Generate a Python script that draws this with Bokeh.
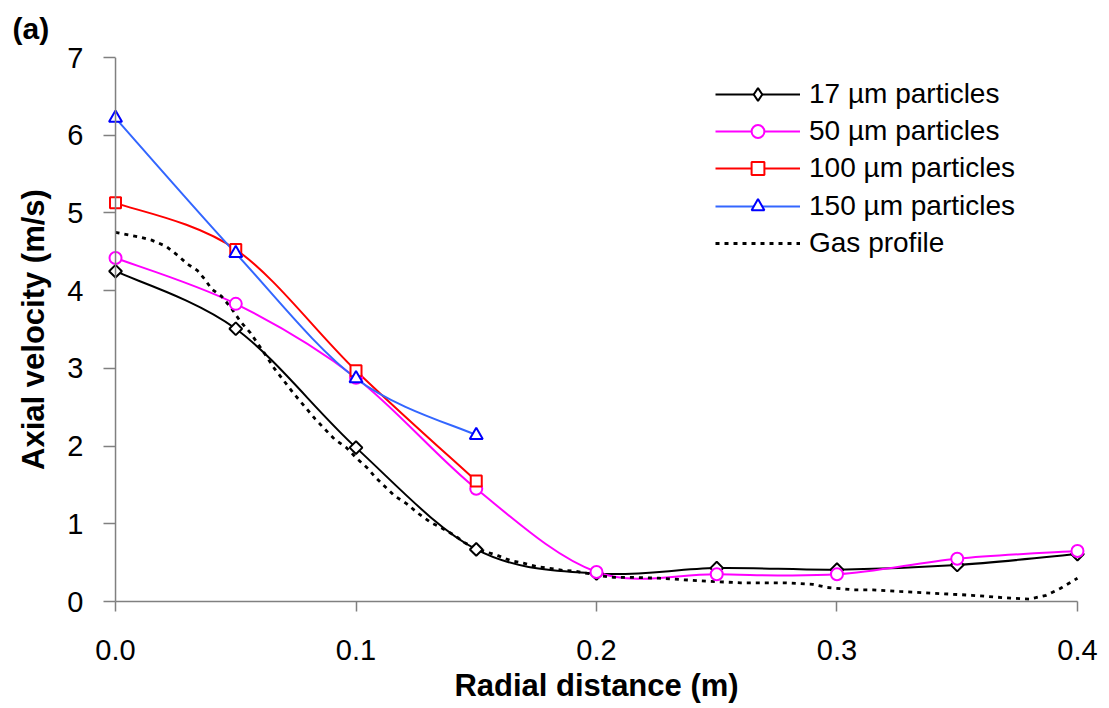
import numpy as np
from bokeh.plotting import figure
from bokeh.models import (Range1d, FixedTicker, PrintfTickFormatter, Legend,
                          LegendItem, ColumnDataSource, Span)
from bokeh.embed import file_html
from bokeh.resources import INLINE

# ---------------- data ----------------
radial = [0.00, 0.05, 0.10, 0.15, 0.20, 0.25, 0.30, 0.35, 0.40]
v17 = [4.25, 3.51, 1.98, 0.67, 0.36, 0.43, 0.41, 0.47, 0.61]
v50 = [4.42, 3.83, 2.88, 1.45, 0.38, 0.35, 0.35, 0.55, 0.65]
radial_short = [0.00, 0.05, 0.10, 0.15]
v100 = [5.13, 4.53, 2.97, 1.55]
v150 = [6.22, 4.48, 2.87, 2.14]

gas_x = [0.000, 0.010, 0.015, 0.021, 0.026, 0.030, 0.034, 0.037, 0.040, 0.044,
         0.048, 0.052, 0.056, 0.062, 0.066, 0.070, 0.074, 0.083, 0.087, 0.091,
         0.096, 0.100, 0.105, 0.108, 0.116, 0.121, 0.126, 0.131, 0.136, 0.141,
         0.145, 0.150, 0.159, 0.164, 0.170, 0.175, 0.180, 0.186, 0.191, 0.202,
         0.207, 0.215, 0.226, 0.236, 0.247, 0.260, 0.279, 0.290, 0.296, 0.307,
         0.315, 0.326, 0.344, 0.356, 0.369, 0.380, 0.387, 0.393, 0.400]
gas_y = [4.75, 4.69, 4.65, 4.57, 4.45, 4.34, 4.26, 4.15, 4.02, 3.93,
         3.78, 3.60, 3.46, 3.19, 3.00, 2.84, 2.68, 2.35, 2.22, 2.09,
         1.98, 1.85, 1.71, 1.60, 1.36, 1.26, 1.13, 1.02, 0.94, 0.85,
         0.76, 0.68, 0.59, 0.53, 0.49, 0.45, 0.43, 0.40, 0.39, 0.33,
         0.31, 0.31, 0.30, 0.28, 0.26, 0.24, 0.24, 0.22, 0.18, 0.15,
         0.15, 0.13, 0.10, 0.08, 0.05, 0.03, 0.08, 0.17, 0.30]

x_ticks = [0.0, 0.1, 0.2, 0.3, 0.4]
y_ticks = [0, 1, 2, 3, 4, 5, 6, 7]
series_labels = ["17 µm particles", "50 µm particles", "100 µm particles",
                 "150 µm particles", "Gas profile"]
x_title = "Radial distance (m)"
y_title = "Axial velocity (m/s)"
panel_tag = "(a)"

FONT = "Liberation Sans"
AXIS_GREY = "#808080"


def smooth_segments(xs, ys):
    """Cubic Bezier control points (Catmull-Rom style) for a smoothed line."""
    n = len(xs)
    d = dict(x0=[], y0=[], x1=[], y1=[], cx0=[], cy0=[], cx1=[], cy1=[])
    for i in range(n - 1):
        a = max(i - 1, 0)
        b = min(i + 2, n - 1)
        d["x0"].append(xs[i]); d["y0"].append(ys[i])
        d["x1"].append(xs[i + 1]); d["y1"].append(ys[i + 1])
        d["cx0"].append(xs[i] + (xs[i + 1] - xs[a]) / 6.0)
        d["cy0"].append(ys[i] + (ys[i + 1] - ys[a]) / 6.0)
        d["cx1"].append(xs[i + 1] - (xs[b] - xs[i]) / 6.0)
        d["cy1"].append(ys[i + 1] - (ys[b] - ys[i]) / 6.0)
    return ColumnDataSource(d)


FRAME_LEFT, FRAME_TOP, FRAME_BOTTOM = 103, 57, 601
p = figure(width=1109, height=708,
           x_range=Range1d(-0.005, 0.405), y_range=Range1d(0, 7),
           output_backend="svg", toolbar_location=None,
           min_border_left=FRAME_LEFT, min_border_right=20,
           min_border_top=FRAME_TOP, min_border_bottom=708 - FRAME_BOTTOM)
p.xgrid.visible = False
p.ygrid.visible = False
p.outline_line_color = None
p.background_fill_color = "white"
p.border_fill_color = "white"

# panel tag "(a)" as the plot title, pushed to the top-left corner
p.title.text = panel_tag
p.title.align = "left"
p.title.vertical_align = "top"
p.title.offset = -91
p.title.standoff = 22
p.title.text_font = FONT
p.title.text_font_size = "30px"
p.title.text_font_style = "bold"
p.title.text_color = "black"

# axes
for ax in (p.xaxis[0], p.yaxis[0]):
    ax.axis_line_color = AXIS_GREY
    ax.axis_line_width = 1.5
    ax.major_tick_line_color = AXIS_GREY
    ax.major_tick_line_width = 1.5
    ax.minor_tick_line_color = None
    ax.major_label_text_font = FONT
    ax.major_label_text_font_size = "29px"
    ax.major_label_text_color = "black"
    ax.axis_label_text_font = FONT
    ax.axis_label_text_font_size = "31px"
    ax.axis_label_text_font_style = "bold"
    ax.axis_label_text_color = "black"

p.xaxis.ticker = FixedTicker(ticks=x_ticks)
p.xaxis.formatter = PrintfTickFormatter(format="%.1f")
p.xaxis.bounds = (0, 0.4)
p.xaxis.axis_label = x_title
p.xaxis.major_tick_in = 0
p.xaxis.major_tick_out = 10
p.xaxis.major_label_standoff = 28
p.xaxis.axis_label_standoff = 5

# y axis: line at x = 0 drawn as a span, ticks point from frame edge to it
p.yaxis.ticker = FixedTicker(ticks=y_ticks)
p.yaxis.axis_line_color = None
p.yaxis.major_tick_in = 12
p.yaxis.major_tick_out = 0
p.yaxis.axis_label = y_title
p.yaxis.major_label_standoff = 20
p.yaxis.axis_label_standoff = 13
p.add_layout(Span(location=0, dimension="height", line_color=AXIS_GREY,
                  line_width=1.5))

# series
styles = [
    dict(x=radial, y=v17, line="black", mcol="black", marker="square", size=9, angle=np.pi / 4),
    dict(x=radial, y=v50, line="#FF00FF", mcol="#FF00FF", marker="circle", size=12, angle=0),
    dict(x=radial_short, y=v100, line="#FF0000", mcol="#FF0000", marker="square", size=11, angle=0),
    dict(x=radial_short, y=v150, line="#3366FF", mcol="#0000FF", marker="triangle", size=13, angle=0),
]

curves = []
for s in styles:
    curves.append(p.bezier(x0="x0", y0="y0", x1="x1", y1="y1", cx0="cx0", cy0="cy0",
                           cx1="cx1", cy1="cy1", source=smooth_segments(s["x"], s["y"]),
                           line_color=s["line"], line_width=2))

gas = p.line(x=gas_x, y=gas_y, line_color="black", line_width=2.8,
             line_dash="4 5")

legend_entries = []
for i, s in enumerate(styles):
    if i == 0:
        # diamond used for the legend key; it lies fully under the white-filled
        # rotated squares drawn next, so only the squares show in the plot
        leg_mark = p.scatter(x=s["x"], y=s["y"], marker="diamond", size=11,
                             fill_color="white", line_color=s["mcol"], line_width=2)
    sc = p.scatter(x=s["x"], y=s["y"], marker=s["marker"], size=s["size"],
                   angle=s["angle"], fill_color="white", line_color=s["mcol"],
                   line_width=2)
    legend_entries.append([curves[i], leg_mark if i == 0 else sc])
legend_entries.append([gas])

# legends (one per row)
row_centers = [94.3, 131.0, 168.3, 206.0, 243.0]
H = 32
for label, rends, c in zip(series_labels, legend_entries, row_centers):
    leg = Legend(items=[LegendItem(label=label, renderers=rends)],
                 location=(612, FRAME_BOTTOM - (c + H / 2.0)),
                 glyph_width=85, glyph_height=H, label_height=H,
                 label_standoff=9, padding=0, margin=0, spacing=0,
                 border_line_color=None, background_fill_alpha=0,
                 label_text_font=FONT, label_text_font_size="28px",
                 label_text_color="black")
    p.add_layout(leg)

open("out.html", "w").write(file_html(p, INLINE))
